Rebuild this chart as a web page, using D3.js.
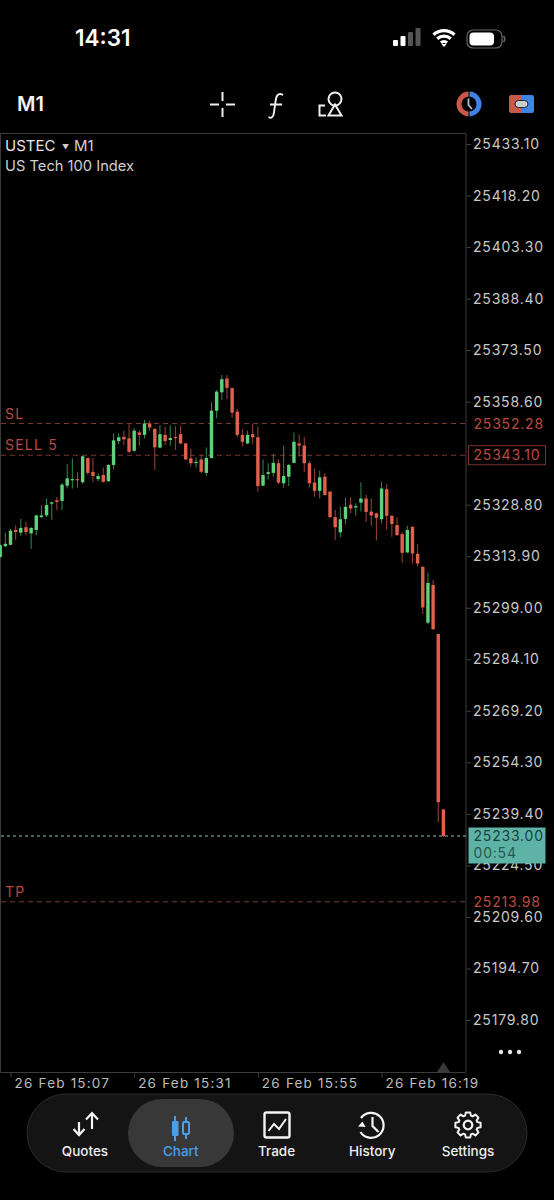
<!DOCTYPE html>
<html>
<head>
<meta charset="utf-8">
<style>
html,body{margin:0;padding:0;background:#000;}
svg{display:block;}
text{font-family:"Inter","Liberation Sans",sans-serif;}
</style>
<script src="https://cdn.jsdelivr.net/npm/d3@7/dist/d3.min.js"></script>
</head>
<body>
<svg id="chart" width="554" height="1200"></svg>
<script>
// USTEC one-minute candles, prices stored above this base level
const priceBase = 25000;
const opens = [313.7,316.8,317.2,321.5,320.7,322.3,320.5,321.5,325.2,325.7,329.1,330.1,329.9,334.3,336.0,336.2,335.3,342.3,338.3,336.2,337.4,335.6,340.3,347.2,348.4,348.0,344.4,349.7,349.0,352.3,350.7,345.3,349.0,347.5,348.4,349.2,346.5,342.2,340.9,341.9,338.0,342.3,356.0,361.3,365.3,362.5,355.7,349.0,346.5,349.2,348.3,334.3,337.7,338.0,340.8,335.0,336.9,340.9,346.5,345.9,340.8,335.2,332.8,336.9,332.6,325.2,320.8,324.7,328.8,328.0,329.4,330.6,326.8,326.3,324.6,333.3,325.6,322.9,320.3,315.0,322.4,314.6,310.8,294.7,305.6,291.4,240.7];
const highs = [317.4,320.7,321.8,322.9,324.7,323.9,322.3,325.9,328.6,330.6,329.7,331.0,335.0,340.5,342.2,338.3,343.0,342.4,342.4,337.9,339.6,340.5,349.4,349.4,350.2,352.1,350.9,350.2,353.3,353.1,351.0,351.8,351.4,351.8,351.5,351.5,346.7,345.0,342.5,343.3,345.4,358.4,362.0,366.3,366.3,362.7,356.5,350.6,350.2,352.1,351.4,341.9,340.8,343.5,341.9,345.9,340.6,349.7,349.1,348.4,341.4,339.3,338.6,337.9,332.8,327.3,328.2,330.8,331.0,329.2,335.3,331.6,330.6,326.5,335.4,334.8,325.8,325.2,321.0,322.7,322.6,317.3,311.1,309.1,307.0,291.4,240.8];
const lows = [313.4,316.6,317.1,318.6,319.8,320.0,316.0,320.0,325.0,325.2,324.4,327.3,327.3,333.5,333.5,333.7,334.8,337.4,335.4,335.6,335.2,335.4,339.0,346.3,346.0,343.7,344.1,345.9,348.0,350.2,338.8,345.1,346.0,345.8,344.6,346.3,341.7,339.8,339.6,337.9,337.1,342.1,353.8,359.1,359.3,353.9,348.3,345.6,346.3,346.3,332.6,334.2,336.1,336.9,334.8,333.7,334.2,340.8,342.7,338.2,333.8,331.1,330.6,331.4,325.0,318.6,319.4,323.1,326.3,325.6,326.8,323.7,322.7,318.4,323.4,321.5,319.5,319.8,312.0,314.8,311.8,310.9,297.2,294.3,292.6,237.0,232.7];
const closes = [317.1,317.5,321.3,320.9,322.1,320.9,322.1,325.7,325.7,328.7,329.5,329.6,334.6,336.4,336.2,335.9,342.8,338.0,337.1,337.1,335.4,340.3,347.4,348.3,347.7,344.1,350.2,349.0,352.3,351.1,345.4,349.2,347.2,348.1,348.1,346.5,341.9,340.8,341.2,338.3,342.3,356.0,361.5,365.1,362.6,355.4,349.0,347.0,349.0,348.3,334.2,337.4,338.2,340.9,335.2,337.1,340.3,347.0,345.9,340.8,335.0,332.8,336.7,331.6,325.2,322.3,324.6,328.2,327.7,328.4,330.6,326.7,325.7,325.0,333.5,325.6,323.2,320.0,314.9,321.5,314.7,311.8,299.1,306.2,292.8,242.8,233.0];

// Axis contents; the 25343.70 step sits behind the SELL tag, so it carries no label
const priceTicks = [25433.10,25418.20,25403.30,25388.40,25373.50,25358.60,25328.80,25313.90,25299.00,25284.10,25269.20,25254.30,25239.40,25224.50,25209.60,25194.70,25179.80];
const firstBarTime = "2026-02-26T15:05:00";
const timeTicks = ["2026-02-26T15:07:00","2026-02-26T15:31:00","2026-02-26T15:55:00","2026-02-26T16:19:00"];

// Order levels
const levelPrices = [25352.28,25343.10,25213.98];
const levelNames = ["SL","SELL 5","TP"];
const lastPrice = 25233.00;
const countdown = "00:54";

// Navigation bar
const navNames = ["Quotes","Chart","Trade","History","Settings"];

const svg = d3.select("#chart");
const plot = {left:0.5, right:466, top:133.5, bottom:1072.5};
const upBody="#5fd27b", upWick="#2f8a50", downBody="#e2604c", downWick="#9c4437";
const levelRed="#b84a3f", levelLine="#7d352d";

const parseTime = d3.isoParse;
const t0 = parseTime(firstBarTime);
const barTime = i => new Date(+t0 + i*60000);
const x = d3.scaleTime().domain([t0, barTime(opens.length-1)]).range([0.2,443.4]);
const y = d3.scaleLinear().domain([25179.80,25433.10]).range([1020,144]);

const candles = opens.map((o,i)=>({
  t:barTime(i), o:o+priceBase, h:highs[i]+priceBase, l:lows[i]+priceBase, c:closes[i]+priceBase
}));

// Status bar
svg.append("text").attr("x",75).attr("y",46).attr("fill","#fff")
  .attr("font-size",22.5).attr("font-weight",600).text("14:31");
const bars = svg.append("g").attr("transform","translate(393,46)");
[[0,6,"#fff"],[7.5,10,"#fff"],[15,14,"#555"],[22.5,18,"#555"]].forEach(b=>{
  bars.append("rect").attr("x",b[0]).attr("y",-b[1]).attr("width",5).attr("height",b[1]).attr("rx",1).attr("fill",b[2]);
});
const wifi = svg.append("g").attr("transform","translate(444,47)");
[[17,3.2],[11.5,3.2],[6,3.2]].forEach(a=>{
  wifi.append("path").attr("d",d3.arc().innerRadius(a[0]-a[1]).outerRadius(a[0]).startAngle(-0.75).endAngle(0.75)(null))
    .attr("transform","translate(0,-1)").attr("fill","#fff");
});
wifi.append("path").attr("d","M0,0 L-2.6,-3 L2.6,-3 Z").attr("fill","#fff");
svg.append("rect").attr("x",467).attr("y",30).attr("width",35).attr("height",18).attr("rx",6).attr("fill","none").attr("stroke","#666").attr("stroke-width",1.2);
svg.append("rect").attr("x",469.5).attr("y",32.5).attr("width",24.5).attr("height",13).attr("rx",4).attr("fill","#fff");
svg.append("path").attr("d","M503.5,36 q2.5,3 0,6").attr("fill","none").attr("stroke","#666").attr("stroke-width",1.6);

// Toolbar
svg.append("text").attr("x",17).attr("y",111).attr("fill","#f2f2f2").attr("font-size",20).attr("font-weight",600).text("M1");
svg.append("path").attr("d","M210,104.5H219 M226,104.5H235 M222.5,92V101 M222.5,108V117")
  .attr("stroke","#f0f0f0").attr("stroke-width",2).attr("fill","none");
svg.append("path").attr("d","M283,95 C278,92 276,96 275.5,102 L274,112 C273.5,118 271,118.5 268.5,117 M270,104.5H282")
  .attr("stroke","#f0f0f0").attr("stroke-width",1.9).attr("fill","none");
const toolIcon = svg.append("g").attr("fill","none").attr("stroke","#f0f0f0").attr("stroke-width",2);
toolIcon.append("circle").attr("cx",335).attr("cy",99).attr("r",6.5);
toolIcon.append("path").attr("d","M335,104.5 L341.5,115.5 H328.5 Z");
toolIcon.append("path").attr("d","M325,105.5H319.5V115.5H326");
// Trade-activity clock badge
svg.append("path").attr("d",d3.arc().innerRadius(7.5).outerRadius(12.5).startAngle(Math.PI+0.05).endAngle(2*Math.PI-0.05)(null))
  .attr("transform","translate(469,104)").attr("fill","#c9584a");
svg.append("path").attr("d",d3.arc().innerRadius(7.5).outerRadius(12.5).startAngle(0.05).endAngle(Math.PI-0.05)(null))
  .attr("transform","translate(469,104)").attr("fill","#3f83e6");
svg.append("path").attr("d","M468.5,98.5V105L472,109").attr("stroke","#b9bfc6").attr("stroke-width",1.8).attr("fill","none");
// One-click trading badge
svg.append("path").attr("d","M521,95H511a2,2 0 0 0 -2,2V111a2,2 0 0 0 2,2H521Z").attr("fill","#c9584a");
svg.append("path").attr("d","M521,95H532a2,2 0 0 1 2,2V111a2,2 0 0 1 -2,2H521Z").attr("fill","#3f83e6");
svg.append("rect").attr("x",515).attr("y",100.5).attr("width",13).attr("height",7).attr("rx",3.5).attr("fill","#c7cdd3").attr("stroke","#222").attr("stroke-width",1);

// Plot frame
const frame="#3c3c3c";
svg.append("path").attr("d",`M${plot.left},${plot.bottom}V${plot.top}H${plot.right}V${plot.bottom}H${plot.left}`)
  .attr("fill","none").attr("stroke",frame).attr("stroke-width",1);

// Price axis
const yAxis = d3.axisRight(y).tickValues(priceTicks).tickSize(5).tickPadding(2).tickFormat(d3.format(".2f"));
const yG = svg.append("g").attr("transform",`translate(${plot.right},0)`).call(yAxis);
yG.select(".domain").remove();
yG.selectAll("line").attr("stroke",frame);
yG.selectAll("text").attr("fill","#c9c9c9").attr("font-size",14).attr("letter-spacing",0.8)
  .style("font-family","Inter,'Liberation Sans',sans-serif");

// Time axis
const xAxis = d3.axisBottom(x).tickValues(timeTicks.map(parseTime)).tickSize(5).tickPadding(0)
  .tickFormat(d=>"26 Feb "+d3.timeFormat("%H:%M")(d));
const xG = svg.append("g").attr("transform",`translate(0,${plot.bottom})`).call(xAxis);
xG.select(".domain").remove();
xG.selectAll("line").attr("stroke",frame);
xG.selectAll("text").attr("fill","#bdbdbd").attr("font-size",13.5).attr("letter-spacing",1.2)
  .attr("text-anchor","start").attr("x",3.5).attr("y",6)
  .style("font-family","Inter,'Liberation Sans',sans-serif");

// Order level lines and tags
levelPrices.forEach((p,i)=>{
  const py=y(p);
  svg.append("line").attr("x1",1).attr("x2",plot.right).attr("y1",py).attr("y2",py)
    .attr("stroke",levelLine).attr("stroke-width",1).attr("stroke-dasharray","5 4");
  svg.append("text").attr("x",5).attr("y",py-5).attr("fill",levelRed)
    .attr("font-size",14).attr("letter-spacing",1.2).text(levelNames[i]);
  if(i===1){
    svg.append("rect").attr("x",468.5).attr("y",py-9.5).attr("width",77).attr("height",19)
      .attr("fill","#000").attr("stroke",levelLine).attr("stroke-width",1);
  }else{
    svg.append("rect").attr("x",469).attr("y",py-8).attr("width",78).attr("height",16).attr("fill","#000");
  }
  svg.append("text").attr("x",473.5).attr("y",py+5).attr("fill",levelRed)
    .attr("font-size",14).attr("letter-spacing",0.8).text(d3.format(".2f")(p));
});

// Last price line and quote box
svg.append("line").attr("x1",1).attr("x2",plot.right).attr("y1",y(lastPrice)).attr("y2",y(lastPrice))
  .attr("stroke","#7fc4b8").attr("stroke-width",1).attr("stroke-dasharray","3 3");

// Candles
const gCandles = svg.append("g");
gCandles.selectAll("line").data(candles).join("line")
  .attr("x1",d=>x(d.t)).attr("x2",d=>x(d.t))
  .attr("y1",d=>y(d.h)).attr("y2",d=>y(d.l))
  .attr("stroke",d=>d.c>=d.o?upWick:downWick).attr("stroke-width",1);
gCandles.selectAll("rect").data(candles).join("rect")
  .attr("x",d=>x(d.t)-1.7).attr("width",3.4)
  .attr("y",d=>y(Math.max(d.o,d.c)))
  .attr("height",d=>Math.max(1.2,Math.abs(y(d.o)-y(d.c))))
  .attr("fill",d=>d.c>=d.o?upBody:downBody);

const ly=y(lastPrice);
svg.append("rect").attr("x",468.5).attr("y",ly-8.5).attr("width",77).attr("height",36).attr("fill","#5fb3a6");
svg.append("text").attr("x",473.5).attr("y",ly+5).attr("fill","#17423c").attr("font-size",14).attr("letter-spacing",0.8)
  .text(d3.format(".2f")(lastPrice));
svg.append("text").attr("x",473.5).attr("y",ly+22).attr("fill","#1f5a52").attr("font-size",14).attr("letter-spacing",0.8)
  .text(countdown);

// Symbol caption
svg.append("text").attr("x",5).attr("y",151).attr("fill","#e6e6e6").attr("font-size",15).text("USTEC");
svg.append("text").attr("x",62).attr("y",150).attr("fill","#cfcfcf").attr("font-size",7).text("▼");
svg.append("text").attr("x",74).attr("y",151).attr("fill","#d0d0d0").attr("font-size",15).text("M1");
svg.append("text").attr("x",5).attr("y",171).attr("fill","#cfcfcf").attr("font-size",14.7).text("US Tech 100 Index");

// Scroll marker and overflow dots
svg.append("path").attr("d","M443.5,1062 L450,1072 H437 Z").attr("fill","#3a3a3a");
[501,510,519].forEach(cx=>svg.append("circle").attr("cx",cx).attr("cy",1052).attr("r",2.2).attr("fill","#e6e6e6"));

// Bottom navigation
svg.append("rect").attr("x",27).attr("y",1094).attr("width",500).attr("height",78).attr("rx",39)
  .attr("fill","#141414").attr("stroke","#2b2b2b").attr("stroke-width",1);
svg.append("rect").attr("x",128).attr("y",1099).attr("width",106).attr("height",68).attr("rx",34).attr("fill","#383838");
const navX = d3.scalePoint().domain(navNames).range([85,468]);
navNames.forEach(n=>{
  svg.append("text").attr("x",navX(n)).attr("y",1156).attr("text-anchor","middle")
    .attr("font-size",13.5).attr("font-weight",500)
    .attr("fill",n==="Chart"?"#4a9fe8":"#eeeeee").text(n);
});
const white="#f4f4f4", stroke2={fill:"none",stroke:white,"stroke-width":2.2};
function applyAttrs(sel,a){Object.entries(a).forEach(([k,v])=>sel.attr(k,v));return sel;}
// Quotes arrows
applyAttrs(svg.append("path").attr("d","M79,1122V1135 M73.5,1129L79,1135L84.5,1129 M92,1129V1113 M86,1119.5L92,1113L98,1119.5"),stroke2);
// Chart candles
svg.append("path").attr("d","M175,1116V1141 M186,1117V1139").attr("stroke","#4a9fe8").attr("stroke-width",2);
svg.append("rect").attr("x",172).attr("y",1121).attr("width",6.5).attr("height",15).attr("rx",1).attr("fill","#4a9fe8");
svg.append("rect").attr("x",183).attr("y",1122).attr("width",6).attr("height",12).attr("rx",1).attr("fill","#383838").attr("stroke","#4a9fe8").attr("stroke-width",2);
// Trade chart square
applyAttrs(svg.append("rect").attr("x",264.5).attr("y",1112.5).attr("width",25).attr("height",25).attr("rx",2),{fill:"none",stroke:white,"stroke-width":2.4});
applyAttrs(svg.append("path").attr("d","M268.5,1131L274,1124L279,1129L286,1119"),{fill:"none",stroke:white,"stroke-width":2});
// History clock
applyAttrs(svg.append("path").attr("d","M361,1118A12.5,12.5 0 1 1 360.5,1132"),stroke2);
svg.append("path").attr("d","M358,1126.5L362.5,1121.5L365.5,1127Z").attr("fill",white);
applyAttrs(svg.append("path").attr("d","M372.5,1117V1126L378.5,1132"),stroke2);
// Settings gear: eight teeth around a hub
const gear = svg.append("g").attr("transform","translate(468,1125)");
const gearPts = d3.range(8).flatMap(i=>{
  const a=i/8*2*Math.PI;
  return [[9.8,a-0.3],[12.8,a-0.17],[12.8,a+0.17],[9.8,a+0.3]].map(([r,t])=>[r*Math.sin(t),-r*Math.cos(t)]);
});
applyAttrs(gear.append("path").attr("d",d3.line().curve(d3.curveLinearClosed)(gearPts)),{fill:"none",stroke:white,"stroke-width":2,"stroke-linejoin":"round"});
applyAttrs(gear.append("circle").attr("r",4.3),stroke2);
</script>
</body>
</html>
